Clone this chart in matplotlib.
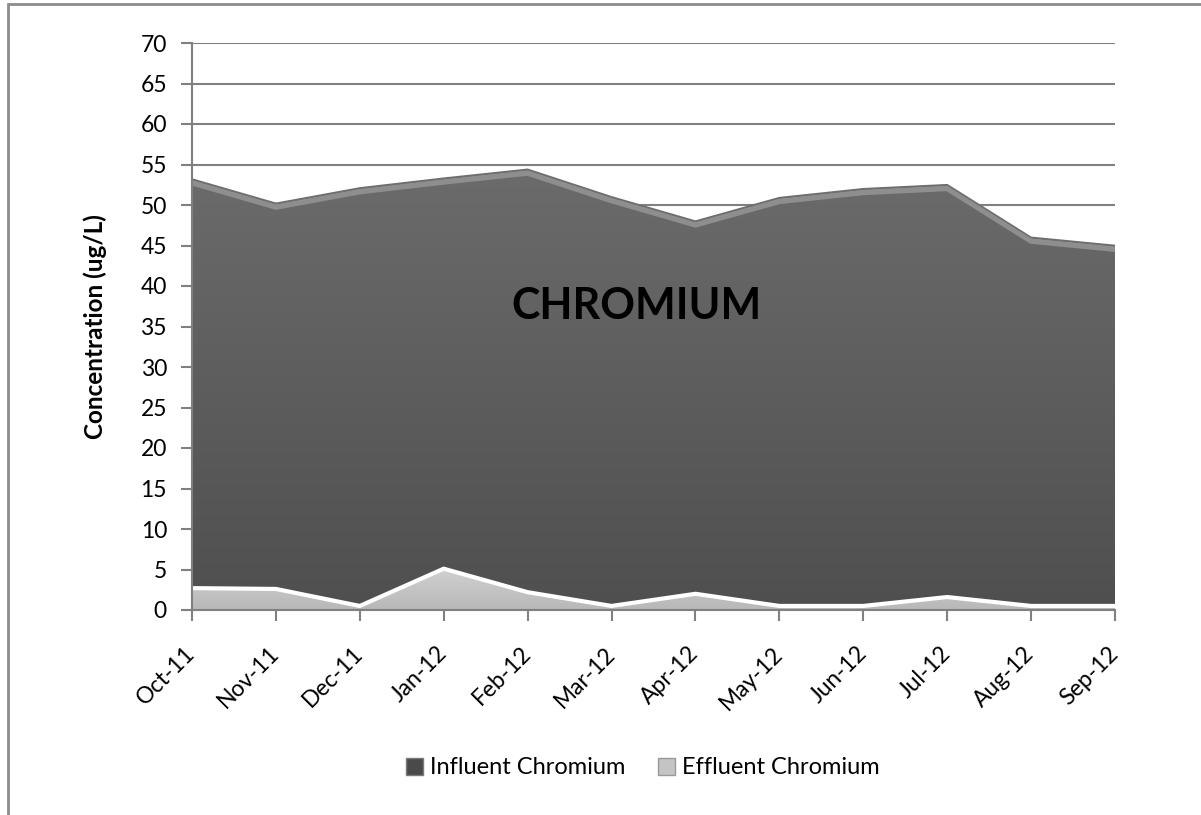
import numpy as np
import matplotlib.pyplot as plt
from matplotlib.patches import Rectangle, Polygon

plt.rcParams['font.family'] = ['Lato', 'DejaVu Sans']

months = ['Oct-11', 'Nov-11', 'Dec-11', 'Jan-12', 'Feb-12', 'Mar-12',
          'Apr-12', 'May-12', 'Jun-12', 'Jul-12', 'Aug-12', 'Sep-12']
influent = [53.2, 50.2, 52.1, 53.3, 54.4, 51.0, 48.0, 50.9, 52.0, 52.5, 46.0, 45.0]
effluent = [2.7, 2.6, 0.5, 5.1, 2.2, 0.5, 2.0, 0.5, 0.5, 1.6, 0.5, 0.5]
yticks = list(range(0, 75, 5))


def gradient_area(ax, x, y, top, bottom, zorder):
    # vertical gradient clipped to the area under the curve
    verts = [(x[0], 0)] + list(zip(x, y)) + [(x[-1], 0)]
    poly = Polygon(verts, closed=True, facecolor='none', edgecolor='none')
    ax.add_patch(poly)
    grad = np.linspace(0, 1, 256).reshape(-1, 1)
    cols = np.array(top) * (1 - grad) + np.array(bottom) * grad
    img = ax.imshow(cols.reshape(256, 1, 3), extent=[x[0], x[-1], 0, max(y)],
                    origin='upper', aspect='auto', zorder=zorder,
                    interpolation='bilinear')
    img.set_clip_path(poly)


fig = plt.figure(figsize=(12.01, 8.15), dpi=100)
fig.patches.append(Rectangle((8 / 1201, -0.01), 1.2, 1 - 4 / 815 + 0.01,
                             transform=fig.transFigure, fill=False,
                             edgecolor='#8c8c8c', linewidth=2))

ax = fig.add_axes([192 / 1201, 1 - 610 / 815, (1115 - 192) / 1201, (610 - 43) / 815])
x = np.arange(len(months))

gradient_area(ax, x, influent, (0.42, 0.42, 0.42), (0.31, 0.31, 0.31), 2)
ax.plot(x, np.array(influent) - 0.45, color='#8e8e8e', linewidth=4, zorder=3,
        solid_joinstyle='round')
ax.plot(x, influent, color='#6e6e6e', linewidth=1.2, zorder=3)

gradient_area(ax, x, effluent, (0.82, 0.82, 0.82), (0.72, 0.72, 0.72), 4)
ax.plot(x, effluent, color='white', linewidth=3, zorder=5, solid_joinstyle='round')

ax.set_xlim(0, len(months) - 1)
ax.set_ylim(0, 70)
ax.set_yticks(yticks)
ax.set_xticks(x)
ax.set_xticklabels(months, rotation=45, ha='right', va='center',
                   rotation_mode='anchor')
ax.tick_params(axis='both', labelsize=16.5, color='#808080', width=1.5, length=8)
ax.tick_params(axis='x', pad=21)
ax.tick_params(axis='y', pad=10)
ax.grid(axis='y', color='#808080', linewidth=1.5, zorder=1)
ax.set_axisbelow(True)
for side in ['top', 'right']:
    ax.spines[side].set_visible(False)
for side in ['left', 'bottom']:
    ax.spines[side].set_color('#808080')
    ax.spines[side].set_linewidth(1.5)
    ax.spines[side].set_zorder(6)

ax.set_ylabel('Concentration (ug/L)', fontsize=17.5, fontweight='bold', labelpad=24)
ax.text(5.3, 37.5, 'CHROMIUM', fontsize=31, fontweight='bold', ha='center',
        va='center', color='black', zorder=7)

handles = [Rectangle((0, 0), 1, 1, facecolor='#4a4a4a', edgecolor='#7a7a7a'),
           Rectangle((0, 0), 1, 1, facecolor='#c4c4c4', edgecolor='#9a9a9a')]
fig.legend(handles, ['Influent Chromium', 'Effluent Chromium'], loc='center',
           bbox_to_anchor=(643 / 1201, 1 - 768 / 815), ncol=2, frameon=False,
           fontsize=17, handlelength=0.7, handleheight=0.7, handletextpad=0.3,
           columnspacing=1.4)

fig.savefig('out.png', dpi=100)
